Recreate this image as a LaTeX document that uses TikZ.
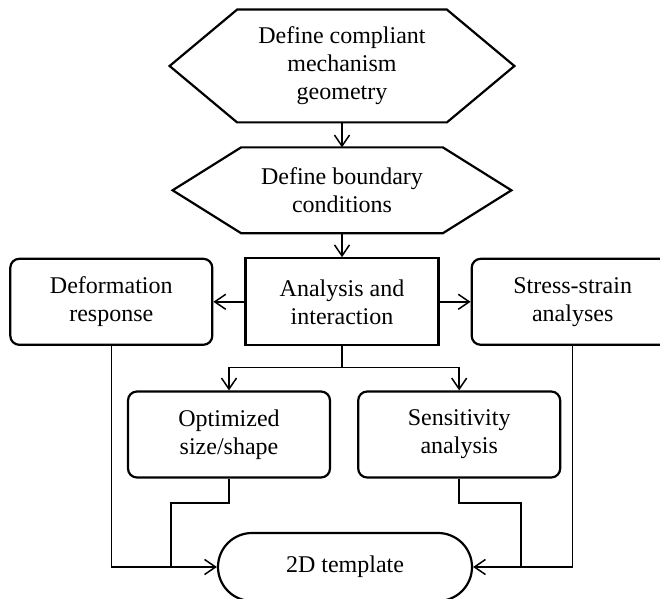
\documentclass[tikz,border=0pt]{standalone}
\usepackage{fontspec}
\setmainfont{Liberation Serif}
\usetikzlibrary{arrows.meta, positioning}

\begin{document}
\begin{tikzpicture}[
    x=0.5pt, y=-0.5pt,
    node distance=12pt and 15.5pt,
    font=\fontsize{12}{14}\selectfont,
    hexbox/.style={inner sep=0pt, minimum width=#1, align=center},
    box/.style={draw, line width=1.1pt, rounded corners=4.5pt, minimum width=101pt, minimum height=43pt, align=center},
    sqbox/.style={draw, line width=1.1pt, minimum width=96.5pt, minimum height=43.5pt, align=center},
    terminal/.style={draw, line width=1.1pt, rounded corners=17pt, minimum width=127pt, minimum height=34pt, align=center},
    hexline/.style={line width=1.1pt, line join=miter},
    arrow/.style={-{Straight Barb[length=5.5pt, width=7.5pt]}, line width=0.75pt},
    link/.style={line width=0.75pt},
]
\useasboundingbox (0,0) rectangle (660,599);
% top: two hexagons
\node[hexbox=104.5pt, minimum height=56pt] (geom) at (342,66) {Define compliant\\mechanism\\geometry};
\node[hexbox=100.5pt, minimum height=42.5pt, below=12.5pt of geom] (bound) {Define boundary\\conditions};
\draw[hexline] (geom.north west) -- (geom.north east) -- ([xshift=33.75pt]geom.east) -- (geom.south east) -- (geom.south west) -- ([xshift=-33.75pt]geom.west) -- cycle;
\draw[hexline] (bound.north west) -- (bound.north east) -- ([xshift=34.25pt]bound.east) -- (bound.south east) -- (bound.south west) -- ([xshift=-34.25pt]bound.west) -- cycle;
% middle row
\node[sqbox, below=12pt of bound] (anal) {Analysis and\\interaction};
\node[box, left=of anal] (deform) {Deformation\\response};
\node[box, right=of anal] (stress) {Stress-strain\\analyses};
\node[box, below=22pt of anal, xshift=-56.5pt] (optim) {Optimized\\size/shape};
\node[box, right=13pt of optim] (sens) {Sensitivity\\analysis};
\node[terminal] (tmpl) at (345,567) {2D template};
\coordinate (split) at ([yshift=-10.5pt]anal.south);
\coordinate (jl) at (171,503);
\coordinate (jr) at (521,503);
\draw[arrow] (geom) -- (bound);
\draw[arrow] (bound) -- (anal);
\draw[arrow] (anal) -- (deform);
\draw[arrow] (anal) -- (stress);
\draw[link] (anal) -- (split);
\draw[arrow] (split) -| (optim.north);
\draw[arrow] (split) -| (sens.north);
\draw[arrow] (deform.south) |- (tmpl.west);
\draw[arrow] (stress.south) |- (tmpl.east);
\draw[link] (optim.south) |- (jl) -- (jl |- tmpl.west);
\draw[link] (sens.south) |- (jr) -- (jr |- tmpl.east);
\end{tikzpicture}
\end{document}
